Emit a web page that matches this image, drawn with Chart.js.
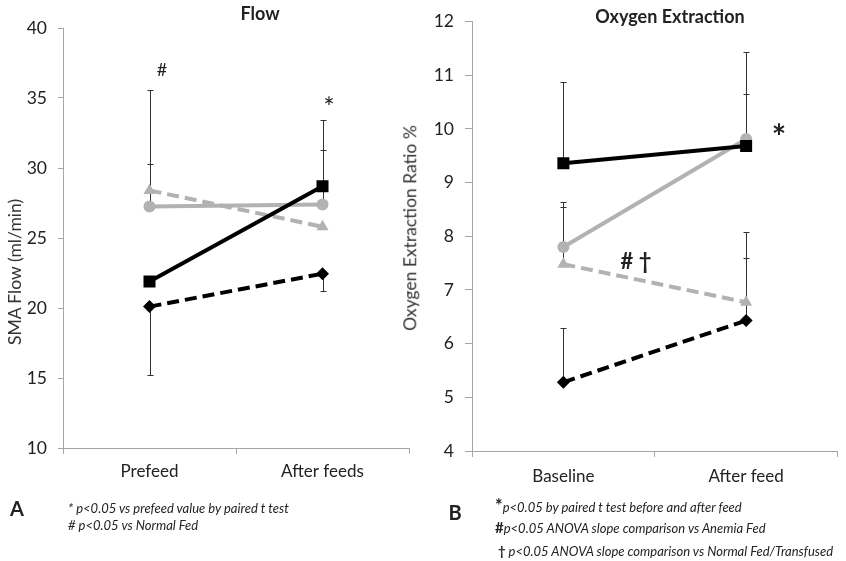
<!DOCTYPE html>
<html>
<head>
<meta charset="utf-8">
<script src="https://cdn.jsdelivr.net/npm/chart.js@4.4.1/dist/chart.umd.min.js"></script>
<style>
  html, body { margin: 0; padding: 0; background: #fff; }
  #page { position: relative; width: 846px; height: 561px; overflow: hidden; font-family: Lato, "Open Sans", sans-serif; color: #222; }
  canvas { position: absolute; top: 0; }
  .t { position: absolute; white-space: nowrap; transform: translate(-50%, -50%); line-height: 1; }
  .l { position: absolute; white-space: nowrap; transform: translateY(-50%); line-height: 1; font-style: italic; }
  .rot { transform: translate(-50%, -50%) rotate(-90deg); }
</style>
</head>
<body>
<div id="page">
  <canvas id="flowChart" style="left:0"></canvas>
  <canvas id="oxyChart" style="left:420px"></canvas>

  <div class="t" style="left:260px;top:13px;font-size:18px;font-weight:bold">Flow</div>
  <div class="t" style="left:670px;top:16px;font-size:18px;font-weight:bold">Oxygen Extraction</div>

  <div class="t rot" style="left:15px;top:272px;font-size:17.5px;color:#333">SMA Flow (ml/min)</div>
  <div class="t rot" style="left:410px;top:228px;font-size:17.5px;color:#333">Oxygen Extraction Ratio %</div>

  <div class="t" style="left:162px;top:69px;font-size:18px">#</div>
  <div class="t" style="left:329px;top:106px;font-size:27px">*</div>
  <div class="t" style="left:779px;top:136px;font-size:34px;font-weight:bold">*</div>
  <div class="t" style="left:636px;top:261px;font-size:22px;font-weight:bold">#&nbsp;†</div>

  <div class="t" style="left:17px;top:508px;font-size:20px;font-weight:bold">A</div>
  <div class="t" style="left:455px;top:512px;font-size:20px;font-weight:bold">B</div>

  <div class="l" style="left:68px;top:508px;font-size:13px">* p&lt;0.05 vs prefeed value by paired t test</div>
  <div class="l" style="left:68px;top:525px;font-size:13px"># p&lt;0.05 vs Normal Fed</div>

  <div class="l" style="left:495px;top:505px;font-size:13px"><span style="font-style:normal;font-weight:bold;font-size:18px">*</span>p&lt;0.05 by paired t test before and after feed</div>
  <div class="l" style="left:495px;top:527px;font-size:13px"><span style="font-style:normal;font-weight:bold;font-size:15px">#</span>p&lt;0.05 ANOVA slope comparison vs Anemia Fed</div>
  <div class="l" style="left:498px;top:551px;font-size:13px"><span style="font-style:normal;font-weight:bold">†</span> p&lt;0.05 ANOVA slope comparison vs Normal Fed/Transfused</div>
</div>

<script>
// Panel A - SMA flow (ml/min)
const flowLabels = ['Prefeed', 'After feeds'];
const flowSquare = [21.9, 28.7];
const flowDiamond = [20.1, 22.45];
const flowCircle = [27.25, 27.4];
const flowTriangle = [28.4, 25.8];
// end value of each drawn error bar (null = none visible)
const flowSquareErr = [null, 33.4];
const flowDiamondErr = [15.2, 21.2];
const flowCircleErr = [30.3, 31.3];
const flowTriangleErr = [35.6, null];

// Panel B - oxygen extraction ratio %
const oxyLabels = ['Baseline', 'After feed'];
const oxySquare = [9.36, 9.68];
const oxyDiamond = [5.28, 6.43];
const oxyCircle = [7.8, 9.81];
const oxyTriangle = [7.48, 6.77];
const oxySquareErr = [10.87, 10.65];
const oxyDiamondErr = [6.29, 7.6];
const oxyCircleErr = [8.64, 11.43];
const oxyTriangleErr = [8.55, 8.07];

const BLACK = '#000000';
const GREY = '#b2b2b2';
const AXIS = '#a6a6a6';

// draws the thin error bars behind the lines
const errorBars = {
    id: 'errorBars',
    beforeDatasetsDraw(chart) {
        const ctx = chart.ctx;
        const x = chart.scales.x, y = chart.scales.y;
        ctx.save();
        ctx.strokeStyle = '#333333';
        ctx.lineWidth = 1;
        chart.data.datasets.forEach(ds => {
            ds.errEnd.forEach((end, i) => {
                if (end === null) return;
                const px = Math.round(x.getPixelForValue(i)) + 0.5;
                const y0 = y.getPixelForValue(ds.data[i]);
                const y1 = Math.round(y.getPixelForValue(end)) + 0.5;
                ctx.beginPath();
                ctx.moveTo(px, y0);
                ctx.lineTo(px, y1);
                ctx.moveTo(px - 3, y1);
                ctx.lineTo(px + 3, y1);
                ctx.stroke();
            });
        });
        ctx.restore();
    }
};

function series(label, data, errEnd, color, dashed, shape, radius) {
    return {
        label: label,
        data: data,
        errEnd: errEnd,
        borderColor: color,
        backgroundColor: color,
        borderWidth: 4,
        borderDash: dashed ? [12, 6] : [],
        pointStyle: shape,
        pointRadius: radius,
        pointBorderWidth: 0,
        pointBackgroundColor: color
    };
}

function makeChart(id, w, labels, datasets, yMin, yMax, step, box) {
    const canvas = document.getElementById(id);
    canvas.style.width = w + 'px';
    canvas.style.height = '561px';
    return new Chart(canvas.getContext('2d'), {
        type: 'line',
        data: { labels: labels, datasets: datasets },
        options: {
            responsive: false,
            animation: false,
            layout: { padding: { top: box.top, right: box.right, left: 0, bottom: 0 } },
            plugins: { legend: { display: false }, tooltip: { enabled: false } },
            scales: {
                x: {
                    offset: true,
                    grid: { offset: true, drawOnChartArea: false, color: AXIS, tickLength: 6 },
                    border: { color: AXIS },
                    ticks: { color: '#222', padding: box.xPad, font: { family: 'Lato', size: 17 } },
                    afterFit: s => { s.height = box.xHeight; }
                },
                y: {
                    min: yMin, max: yMax,
                    grid: { drawOnChartArea: false, color: AXIS, tickLength: box.tick },
                    border: { color: AXIS },
                    ticks: { stepSize: step, color: '#222', padding: box.yPad, font: { family: 'Lato', size: 17.5 } },
                    afterFit: s => { s.width = box.left; }
                }
            }
        },
        plugins: [errorBars]
    });
}

makeChart('flowChart', 420, flowLabels, [
    series('Group 1', flowSquare, flowSquareErr, BLACK, false, 'rect', 8.5),
    series('Group 2', flowDiamond, flowDiamondErr, BLACK, true, 'rectRot', 6.5),
    series('Group 3', flowCircle, flowCircleErr, GREY, false, 'circle', 6),
    series('Group 4', flowTriangle, flowTriangleErr, GREY, true, 'triangle', 7)
], 10, 40, 5, { top: 28, right: 11, left: 63, xHeight: 113, xPad: 7, tick: 5, yPad: 11 });

makeChart('oxyChart', 426, oxyLabels, [
    series('Group 1', oxySquare, oxySquareErr, BLACK, false, 'rect', 8.5),
    series('Group 2', oxyDiamond, oxyDiamondErr, BLACK, true, 'rectRot', 6.5),
    series('Group 3', oxyCircle, oxyCircleErr, GREY, false, 'circle', 6),
    series('Group 4', oxyTriangle, oxyTriangleErr, GREY, true, 'triangle', 7)
], 4, 12, 1, { top: 20, right: 7, left: 52, xHeight: 110, xPad: 9, tick: 7, yPad: 11 });
</script>
</body>
</html>
